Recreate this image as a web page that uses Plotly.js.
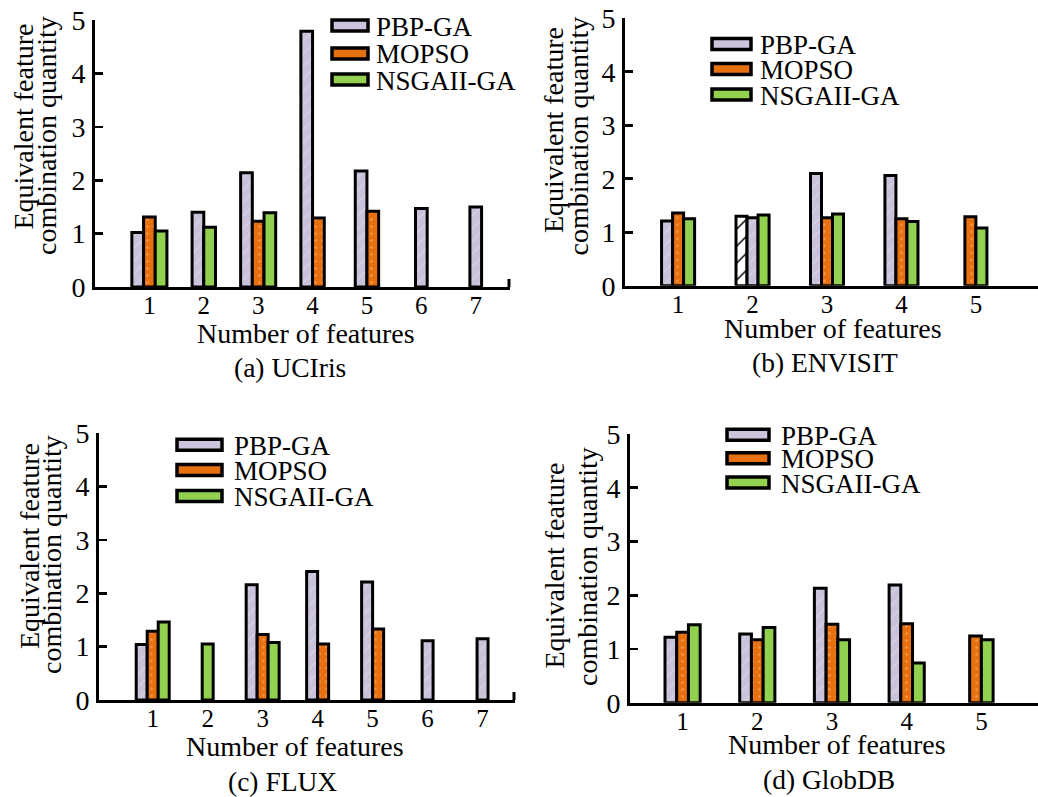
<!DOCTYPE html>
<html><head><meta charset="utf-8">
<script src="https://cdn.plot.ly/plotly-3.0.1.min.js"></script>
<style>html,body{margin:0;padding:0;background:#fff}</style>
</head><body><div id="chart" style="width:1038px;height:797px"></div>
<script>
// ---------------- data ----------------
const seriesNames = ['PBP-GA', 'MOPSO', 'NSGAII-GA'];
const yTickLabels = ['0', '1', '2', '3', '4', '5'];
const yTickValues = [0, 1, 2, 3, 4, 5];

// (a) UCIris
const uciCats = [1, 2, 3, 4, 5, 6, 7];
const uciTickLabels = ['1', '2', '3', '4', '5', '6', '7'];
const uciPBP   = [1.02, 1.40, 2.14, 4.79, 2.17, 1.47, 1.50];
const uciMOPSO = [1.31, null, 1.23, 1.29, 1.42, null, null];
const uciNSGA  = [1.05, 1.12, 1.39, null, null, null, null];

// (b) ENVISIT
const envCats = [1, 2, 3, 4, 5];
const envTickLabels = ['1', '2', '3', '4', '5'];
const envUnlabeled = [null, 1.30, null, null, null];   // hatched white bar with no legend entry
const envPBP   = [1.21, 1.27, 2.10, 2.06, null];
const envMOPSO = [1.36, null, 1.27, 1.25, 1.29];
const envNSGA  = [1.25, 1.32, 1.34, 1.20, 1.08];

// (c) FLUX
const fluxCats = [1, 2, 3, 4, 5, 6, 7];
const fluxTickLabels = ['1', '2', '3', '4', '5', '6', '7'];
const fluxPBP   = [1.04, null, 2.16, 2.41, 2.21, 1.11, 1.15];
const fluxMOPSO = [1.29, null, 1.23, 1.05, 1.33, null, null];
const fluxNSGA  = [1.46, 1.05, 1.08, null, null, null, null];

// (d) GlobDB
const globCats = [1, 2, 3, 4, 5];
const globTickLabels = ['1', '2', '3', '4', '5'];
const globPBP   = [1.22, 1.28, 2.13, 2.19, null];
const globMOPSO = [1.31, 1.17, 1.46, 1.47, 1.24];
const globNSGA  = [1.45, 1.40, 1.17, 0.74, 1.17];

const yTitleLine1 = 'Equivalent feature';
const yTitleLine2 = 'combination quantity';
const xTitle = 'Number of features';
const captions = ['(a) UCIris', '(b) ENVISIT', '(c) FLUX', '(d) GlobDB'];

// ---------------- styles ----------------
const W = 1038, H = 797;
const FONT = 'Liberation Serif, Times New Roman, serif';
const styles = {
  'PBP-GA':    {color: '#CCC4DC', pattern: {shape: '/', fgcolor: '#D8D2E5', bgcolor: '#CAC2DA', size: 9, solidity: 0.15}},
  'MOPSO':     {color: '#E8710F', pattern: {shape: '.', fgcolor: '#F39A50', bgcolor: '#E8700E', size: 7, solidity: 0.1}},
  'NSGAII-GA': {color: '#92D050', pattern: {shape: ''}},
  'unlabeled': {color: '#FFFFFF', pattern: {shape: '/', fgcolor: '#000000', bgcolor: '#FFFFFF', size: 12, solidity: 0.12}}
};
const legendFill = {'PBP-GA': '#CCC4DC', 'MOPSO': '#E8710F', 'NSGAII-GA': '#92D050'};

const px = v => v / W;
const py = v => 1 - v / H;

const panels = [
  {xa: 'x', ya: 'y', dom: [95, 510, 20, 287], range: [0, 7.63], barW: 0.215,
   cats: uciCats, ticks: uciTickLabels,
   series: [['PBP-GA', uciPBP], ['MOPSO', uciMOPSO], ['NSGAII-GA', uciNSGA]],
   yt: [[22.6, 127], [46, 136]], xt: [305.5, 334], cap: [290, 368],
   leg: {x0: 330, x1: 370, tx: 376, rows: [25.5, 53.5, 79.5]}, endTick: true},
  {xa: 'x2', ya: 'y2', dom: [625, 1038, 18.3, 285.7], range: [0.287, 5.834], barW: 0.148,
   cats: envCats, ticks: envTickLabels,
   series: [['unlabeled', envUnlabeled], ['PBP-GA', envPBP], ['MOPSO', envMOPSO], ['NSGAII-GA', envNSGA]],
   yt: [[554, 130], [578, 136.5]], xt: [833, 329], cap: [824.5, 362],
   leg: {x0: 710, x1: 753, tx: 760, rows: [44, 69, 94.5]}, endTick: false},
  {xa: 'x3', ya: 'y3', dom: [99, 515, 433.3, 700], range: [0.023, 7.59], barW: 0.2,
   cats: fluxCats, ticks: fluxTickLabels,
   series: [['PBP-GA', fluxPBP], ['MOPSO', fluxMOPSO], ['NSGAII-GA', fluxNSGA]],
   yt: [[29, 546], [51, 555]], xt: [295, 746], cap: [282.5, 781],
   leg: {x0: 175, x1: 224, tx: 234, rows: [444.7, 470, 496]}, endTick: true},
  {xa: 'x4', ya: 'y4', dom: [630, 1038, 434, 702.7], range: [0.296, 5.758], barW: 0.157,
   cats: globCats, ticks: globTickLabels,
   series: [['PBP-GA', globPBP], ['MOPSO', globMOPSO], ['NSGAII-GA', globNSGA]],
   yt: [[554, 565.5], [587, 567]], xt: [837, 744], cap: [828.5, 779],
   leg: {x0: 725, x1: 771, tx: 781, rows: [434.7, 458.3, 482.5]}, endTick: false}
];

const traces = [];
const layout = {
  width: W, height: H, margin: {l: 0, r: 0, t: 0, b: 0},
  paper_bgcolor: '#fff', plot_bgcolor: 'rgba(0,0,0,0)',
  showlegend: false, barmode: 'overlay',
  font: {family: FONT, color: '#000'},
  annotations: [], shapes: []
};

panels.forEach((p, pi) => {
  // pack the bars that are present in each category side by side, centred on the category
  const offsets = p.series.map(() => p.cats.map(() => null));
  p.cats.forEach((c, ci) => {
    const present = p.series.map((s, si) => s[1][ci] !== null ? si : -1).filter(si => si >= 0);
    const n = present.length;
    present.forEach((si, k) => { offsets[si][ci] = (k - (n - 1) / 2) * p.barW; });
  });
  p.series.forEach(([name, vals], si) => {
    const xs = [], ys = [];
    p.cats.forEach((c, ci) => {
      if (vals[ci] !== null) { xs.push(c + offsets[si][ci]); ys.push(vals[ci]); }
    });
    const st = styles[name];
    const marker = {color: st.color, line: {color: '#000', width: 3}};
    if (st.pattern.shape) marker.pattern = st.pattern;
    traces.push({type: 'bar', name: name, x: xs, y: ys, width: p.barW, xaxis: p.xa, yaxis: p.ya,
                 marker: marker, hoverinfo: 'skip', showlegend: false});
  });

  const xk = pi === 0 ? 'xaxis' : 'xaxis' + (pi + 1);
  const yk = pi === 0 ? 'yaxis' : 'yaxis' + (pi + 1);
  layout[xk] = {domain: [px(p.dom[0]), px(p.dom[1])], range: p.range, anchor: p.ya,
    tickvals: p.cats, ticktext: p.ticks, ticks: '', showline: true, linewidth: 3, linecolor: '#000',
    showgrid: false, zeroline: false, tickfont: {family: FONT, size: 25, color: '#000'},
    ticklabelstandoff: -6, fixedrange: true};
  layout[yk] = {domain: [py(p.dom[3]), py(p.dom[2])], range: [0, 5], anchor: p.xa,
    tickvals: yTickValues, ticktext: yTickLabels, ticks: 'inside', ticklen: 8, tickwidth: 2.6, tickcolor: '#000',
    showline: true, linewidth: 3, linecolor: '#000', showgrid: false, zeroline: false,
    tickfont: {family: FONT, size: 28, color: '#000'}, ticklabelstandoff: 1, fixedrange: true};

  const ann = (text, x, y, size, extra) => Object.assign({text: text, x: px(x), y: py(y), xref: 'paper', yref: 'paper',
    showarrow: false, xanchor: 'center', yanchor: 'middle', font: {family: FONT, size: size, color: '#000'}}, extra || {});
  layout.annotations.push(ann(yTitleLine1, p.yt[0][0], p.yt[0][1], 28, {textangle: -90}));
  layout.annotations.push(ann(yTitleLine2, p.yt[1][0], p.yt[1][1], 28, {textangle: -90}));
  layout.annotations.push(ann(xTitle, p.xt[0], p.xt[1], 28));
  layout.annotations.push(ann(captions[pi], p.cap[0], p.cap[1], 27.5));

  // legend drawn as boxes + text
  seriesNames.forEach((nm, k) => {
    const yc = p.leg.rows[k];
    layout.shapes.push({type: 'rect', xref: 'paper', yref: 'paper',
      x0: px(p.leg.x0 + 2), x1: px(p.leg.x1 - 2), y0: py(yc + 5.5), y1: py(yc - 5.5),
      fillcolor: legendFill[nm], line: {color: '#000', width: 3.5}});
    layout.annotations.push(ann(nm, p.leg.tx - 2, yc + 1, 27, {xanchor: 'left'}));
  });

  if (p.endTick) {
    layout.shapes.push({type: 'line', xref: 'paper', yref: 'paper',
      x0: px(p.dom[1] - 1), x1: px(p.dom[1] - 1), y0: py(p.dom[3]), y1: py(p.dom[3] - 8),
      line: {color: '#000', width: 3}});
  }
});

Plotly.newPlot('chart', traces, layout, {displayModeBar: false, staticPlot: true});
</script>
</body></html>
